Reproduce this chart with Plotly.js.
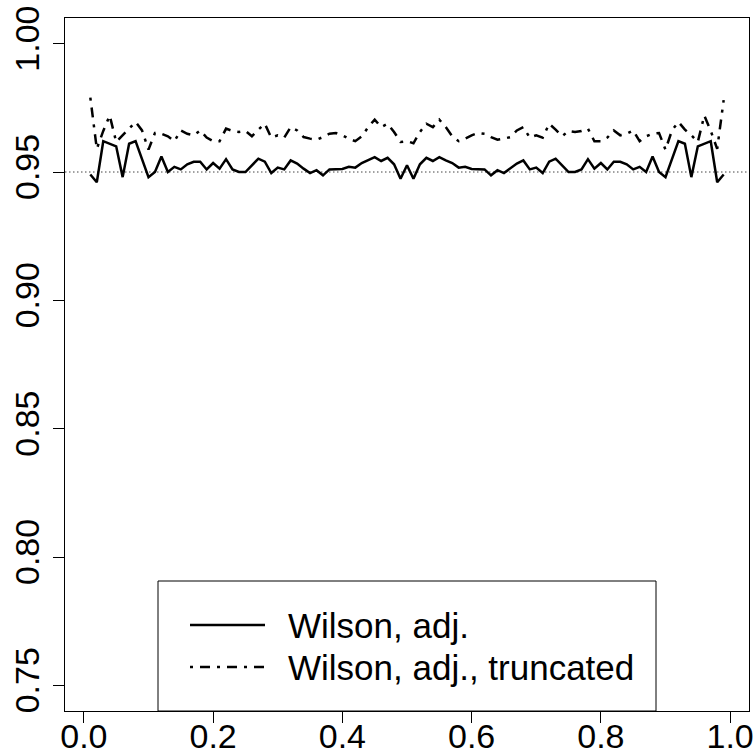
<!DOCTYPE html>
<html>
<head>
<meta charset="utf-8">
<script src="https://cdn.plot.ly/plotly-3.0.1.min.js"></script>
<style>html,body{margin:0;padding:0;background:#fff;}#chart{width:756px;height:755px;}</style>
</head>
<body>
<div id="chart"></div>
<script>
const pValues = [0.01,0.02,0.03,0.04,0.05,0.06,0.07,0.08,0.09,0.10,
  0.11,0.12,0.13,0.14,0.15,0.16,0.17,0.18,0.19,0.20,
  0.21,0.22,0.23,0.24,0.25,0.26,0.27,0.28,0.29,0.30,
  0.31,0.32,0.33,0.34,0.35,0.36,0.37,0.38,0.39,0.40,
  0.41,0.42,0.43,0.44,0.45,0.46,0.47,0.48,0.49,0.50,
  0.51,0.52,0.53,0.54,0.55,0.56,0.57,0.58,0.59,0.60,
  0.61,0.62,0.63,0.64,0.65,0.66,0.67,0.68,0.69,0.70,
  0.71,0.72,0.73,0.74,0.75,0.76,0.77,0.78,0.79,0.80,
  0.81,0.82,0.83,0.84,0.85,0.86,0.87,0.88,0.89,0.90,
  0.91,0.92,0.93,0.94,0.95,0.96,0.97,0.98,0.99];

const wilsonAdj = [0.949,0.946,0.962,0.961,0.960,0.948,0.961,0.962,0.955,0.948,
  0.950,0.956,0.950,0.952,0.951,0.953,0.954,0.954,0.951,0.9535,
  0.9513,0.955,0.951,0.950,0.950,0.9526,0.9552,0.954,0.9496,0.9517,
  0.951,0.9545,0.9533,0.9513,0.9496,0.9507,0.9487,0.951,0.951,0.9512,
  0.952,0.9517,0.9535,0.9545,0.9558,0.9543,0.9555,0.953,0.9474,0.9526,
  0.9474,0.953,0.9555,0.9543,0.9558,0.9545,0.9535,0.9517,0.952,0.9512,
  0.951,0.951,0.9487,0.9507,0.9496,0.9513,0.9533,0.9545,0.951,0.9517,
  0.9496,0.954,0.9552,0.9526,0.950,0.950,0.951,0.955,0.9513,0.9535,
  0.951,0.954,0.954,0.953,0.951,0.952,0.950,0.956,0.950,0.948,
  0.955,0.962,0.961,0.948,0.960,0.961,0.962,0.946,0.949];

const wilsonAdjTrunc = [0.979,0.959,0.966,0.972,0.9617,0.9643,0.9665,0.9695,0.9662,0.9587,
  0.9652,0.9649,0.9639,0.962,0.9662,0.9649,0.9643,0.9662,0.9634,0.962,
  0.962,0.9669,0.966,0.9656,0.966,0.9639,0.9665,0.9688,0.9634,0.9643,
  0.9634,0.9675,0.9662,0.9636,0.963,0.9626,0.9636,0.9649,0.9652,0.9643,
  0.963,0.962,0.9639,0.9675,0.9704,0.9675,0.9688,0.9656,0.9617,0.962,
  0.9612,0.9656,0.9688,0.9675,0.9704,0.9675,0.9639,0.962,0.963,0.9643,
  0.9652,0.9649,0.9636,0.9626,0.963,0.9636,0.9662,0.9675,0.9634,0.9643,
  0.9634,0.9688,0.9665,0.9639,0.966,0.9656,0.966,0.9669,0.962,0.962,
  0.9634,0.9662,0.9643,0.9649,0.9662,0.962,0.9639,0.9649,0.9652,0.9587,
  0.9662,0.9695,0.9665,0.9643,0.9617,0.972,0.966,0.959,0.978];

const seriesNames = ["Wilson, adj.", "Wilson, adj., truncated"];
const xTicks = [0.0,0.2,0.4,0.6,0.8,1.0];
const yTicks = [0.75,0.80,0.85,0.90,0.95,1.00];
const nominal = 0.95;

const FONT = '"Liberation Sans", Arial, Helvetica, sans-serif';
const DASHDOT = '3px,7px,10px,7px';

const traces = [
  {x: pValues, y: wilsonAdj, type: 'scatter', mode: 'lines', name: seriesNames[0],
   line: {color: '#000', width: 2.5}},
  {x: pValues, y: wilsonAdjTrunc, type: 'scatter', mode: 'lines', name: seriesNames[1],
   line: {color: '#000', width: 2.5, dash: DASHDOT}}
];

const lx0 = (190-65)/684, lx1 = (265-65)/684, tx = (286-65)/684;
const ly1 = (711-625)/693, ly2 = (711-667)/693;

const layout = {
  width: 756, height: 755,
  margin: {l: 65, r: 7, t: 18, b: 44, pad: 0},
  paper_bgcolor: '#fff', plot_bgcolor: '#fff',
  showlegend: false,
  font: {family: FONT, size: 34, color: '#000'},
  xaxis: {
    range: [-0.0292, 1.0292], tickvals: xTicks, tickformat: '.1f',
    ticks: 'outside', ticklen: 11, tickwidth: 1, tickcolor: '#000',
    ticklabelstandoff: -16,
    showline: true, mirror: true, linecolor: '#000', linewidth: 1,
    showgrid: false, zeroline: false,
    tickfont: {family: FONT, size: 34, color: '#000'}
  },
  yaxis: {
    range: [0.74, 1.01], tickvals: yTicks, tickformat: '.2f',
    ticks: 'outside', ticklen: 11, tickwidth: 1, tickcolor: '#000',
    tickangle: -90,
    showline: true, mirror: true, linecolor: '#000', linewidth: 1,
    showgrid: false, zeroline: false,
    tickfont: {family: FONT, size: 34, color: '#000'}
  },
  shapes: [
    {type: 'line', xref: 'paper', yref: 'y', x0: 0, x1: 1, y0: nominal, y1: nominal,
     line: {color: '#444', width: 1, dash: '1.5px,2.5px'}, layer: 'below'},
    {type: 'rect', xref: 'paper', yref: 'paper', x0: (158-65)/684, x1: (656-65)/684,
     y0: 0, y1: (711-581)/693, line: {color: '#000', width: 1}, fillcolor: 'rgba(255,255,255,1)'},
    {type: 'line', xref: 'paper', yref: 'paper', x0: lx0, x1: lx1, y0: ly1, y1: ly1,
     line: {color: '#000', width: 2.5}},
    {type: 'line', xref: 'paper', yref: 'paper', x0: lx0, x1: lx1, y0: ly2, y1: ly2,
     line: {color: '#000', width: 2.5, dash: DASHDOT}}
  ],
  annotations: [
    {xref: 'paper', yref: 'paper', x: tx, y: ly1, xanchor: 'left', yanchor: 'middle',
     text: seriesNames[0], showarrow: false, font: {family: FONT, size: 35, color: '#000'}},
    {xref: 'paper', yref: 'paper', x: tx, y: ly2, xanchor: 'left', yanchor: 'middle',
     text: seriesNames[1], showarrow: false, font: {family: FONT, size: 35, color: '#000'}}
  ]
};

Plotly.newPlot('chart', traces, layout, {staticPlot: true, displayModeBar: false});
</script>
</body>
</html>
